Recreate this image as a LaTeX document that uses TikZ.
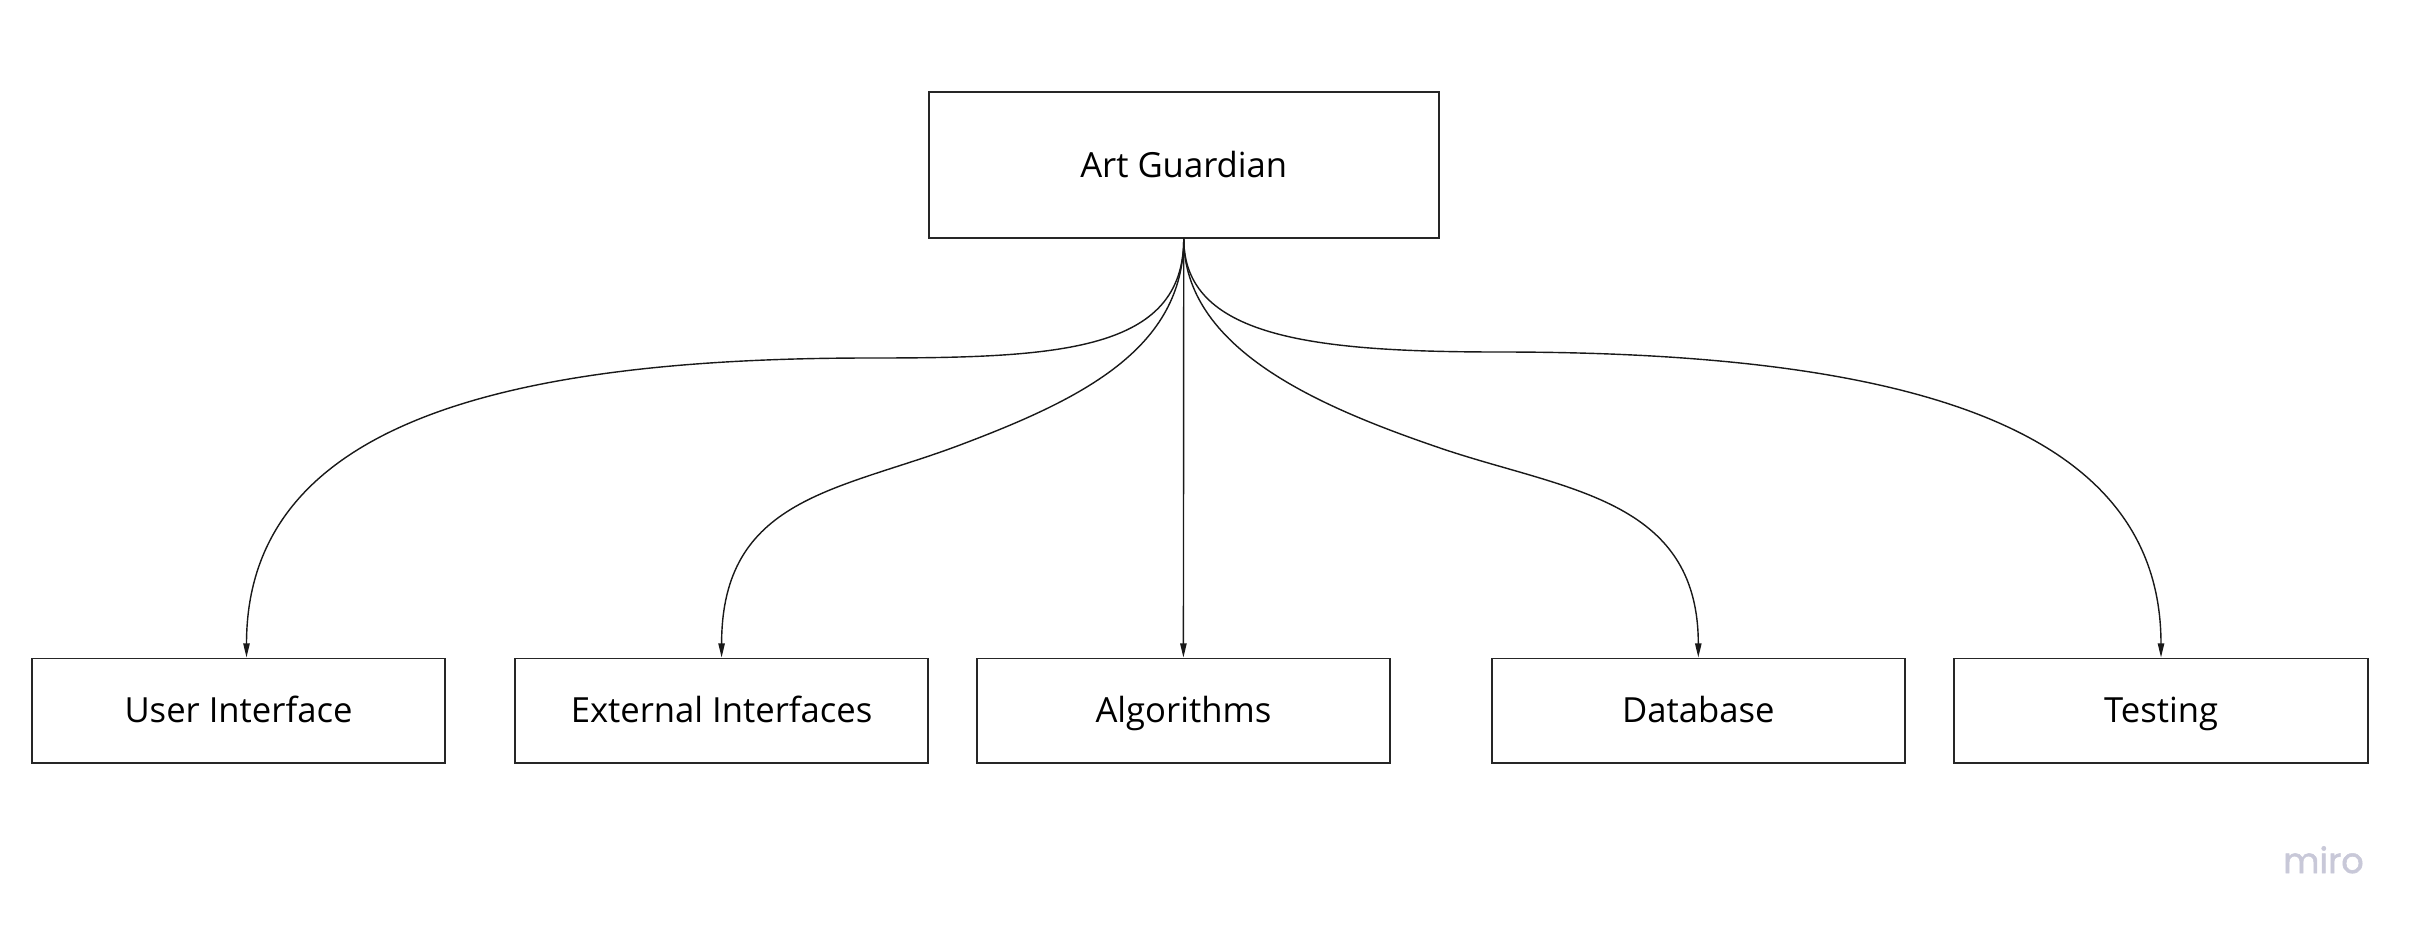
\documentclass[tikz,border=0pt]{standalone}
\usepackage{fontspec}
\setmainfont{Open Sans}
\newfontfamily\mirofont{Poppins}[FakeBold=1.5]
\usetikzlibrary{arrows.meta}
\definecolor{miroGray}{RGB}{200,200,216}
\tikzset{
	partbox/.style={draw=black!85,line width=0.55pt,minimum width=4.13cm,minimum height=1.04cm,inner sep=0pt,text height=7pt,text depth=0pt,font=\fontsize{9.85}{12}\selectfont},
	rootbox/.style={partbox,minimum width=5.1cm,minimum height=1.45cm},
	link/.style={->,line width=0.4pt,black!90}
}
\begin{document}
\begin{tikzpicture}[x=0.01cm,y=-0.01cm,>={Triangle[length=4pt,width=1.8pt]}]
			\useasboundingbox(0,0)rectangle(2417,930);
			\node[rootbox](ag)at(1183.75,165){Art Guardian};
			\node[partbox](ui)at(238.5,710.5){User Interface};
			\node[partbox](ext)at(721.6,710.5){External Interfaces};
			\node[partbox](alg)at(1183.4,710.5){Algorithms};
			\node[partbox](db)at(1698.3,710.5){Database};
			\node[partbox](test)at(2161,710.5){Testing};
			\node[text=miroGray,anchor=base,font=\mirofont\fontsize{10}{12}\selectfont](miro)at(2323.5,873){miro};
			% connectors from the root
			\draw[link](ag.south)--(alg.north);
			\draw[link](ag.south).. controls +(0,113) and +(190,0) ..(870,358)
				.. controls +(-400,0) and +(0,-220) ..([xshift=0.08cm]ui.north);
			\draw[link](ag.south).. controls +(0,110) and +(122,-46) ..(960,445)
				.. controls +(-122,46) and +(0,-160) ..(ext.north);
			\draw[link](ag.south).. controls +(0,110) and +(-123,-42) ..(1440,448)
				.. controls +(123,42) and +(0,-160) ..(db.north);
			\draw[link](ag.south).. controls +(0,98) and +(-190,0) ..(1500,352)
				.. controls +(425,0) and +(0,-224) ..(test.north);
		\end{tikzpicture}
\end{document}
